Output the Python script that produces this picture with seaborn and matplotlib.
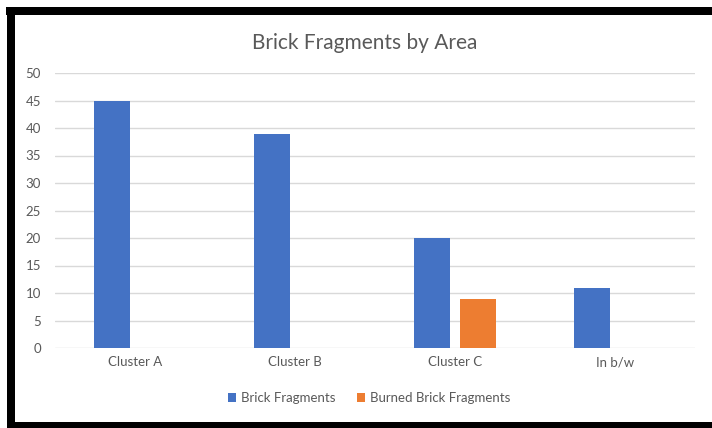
import pandas as pd
import matplotlib.pyplot as plt
import seaborn as sns
from matplotlib.patches import Rectangle

areas = ['Cluster A', 'Cluster B', 'Cluster C', 'In b/w']
brick = [45, 39, 20, 11]
burned = [0, 0, 9, 0]
series = ['Brick Fragments', 'Burned Brick Fragments']
colors = ['#4472C4', '#ED7D31']

df = pd.DataFrame({
    'Area': areas * 2,
    'Count': brick + burned,
    'Series': [series[0]] * len(areas) + [series[1]] * len(areas),
})

W, H = 712, 428
sns.set_style('white')
plt.rcParams['font.family'] = ['Lato', 'DejaVu Sans']

fig = plt.figure(figsize=(W / 100, H / 100), dpi=100)
ax = fig.add_axes([55 / W, 80 / H, 640 / W, 275 / H])

sns.barplot(df, x='Area', y='Count', hue='Series', palette=colors,
            width=0.584, gap=0.23, saturation=1, linewidth=0,
            ax=ax, legend=True)

ax.set_ylim(0, 50)
ax.set_yticks(range(0, 51, 5))
ax.set_xlim(-0.5, 3.5)
ax.yaxis.grid(True, color='#d9d9d9', linewidth=1)
ax.set_axisbelow(True)
for s in ax.spines.values():
    s.set_visible(False)
ax.tick_params(axis='both', length=0, colors='#595959', labelsize=9.5)
ax.tick_params(axis='y', pad=10)
ax.tick_params(axis='x', pad=6)
ax.set_xlabel('')
ax.set_ylabel('')

leg = ax.legend(loc='center', bbox_to_anchor=(369 / W, 1 - 398 / H),
                bbox_transform=fig.transFigure, ncol=2, frameon=False,
                fontsize=9.5, handlelength=0.6, handleheight=0.6,
                handletextpad=0.4, columnspacing=1.6)
for t in leg.get_texts():
    t.set_color('#595959')

fig.text(365 / W, 1 - 43 / H, 'Brick Fragments by Area', ha='center',
         va='center', fontsize=15, color='#595959')

# black frame around the chart
def px_rect(x0, y0, x1, y1):
    fig.add_artist(Rectangle((x0 / W, 1 - y1 / H), (x1 - x0) / W, (y1 - y0) / H,
                             transform=fig.transFigure, color='black', lw=0))

px_rect(6, 7, W, 15)
px_rect(7, 7, 15, H)
px_rect(7, 422, W, H)

fig.savefig('out.png', dpi=100)
